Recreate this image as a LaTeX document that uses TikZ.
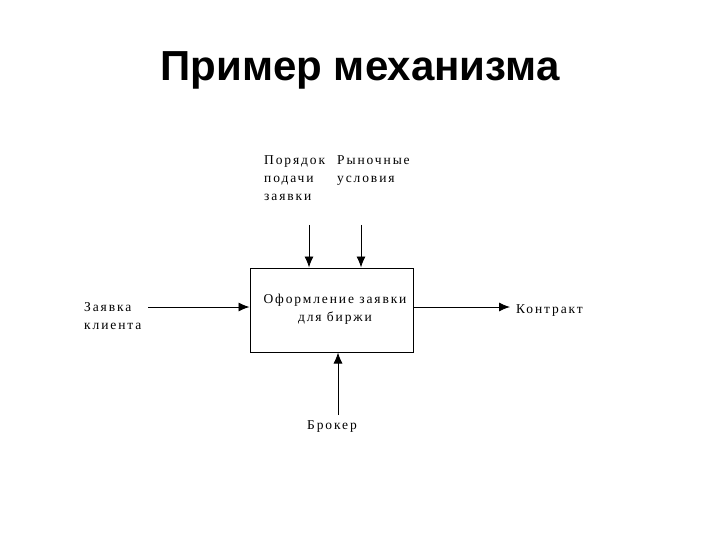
\documentclass[tikz,border=0pt]{standalone}
\usepackage{fontspec}
\setmainfont{Liberation Serif}[LetterSpace=14]
\newfontfamily\titlefont{Liberation Sans}
\usetikzlibrary{arrows.meta}
\begin{document}
\begin{tikzpicture}[x=1pt,y=-1pt,
  lbl/.style={font=\fontsize{13.5}{18}\selectfont, align=left, inner sep=0pt},
  arr/.style={-{Latex[length=11pt,width=9pt]}, line width=0.9pt},
  box/.style={draw, line width=1pt, minimum width=163pt, minimum height=84pt, inner sep=0pt}]
\useasboundingbox (0,0) rectangle (720,540);
\node (title) at (360,70) {\titlefont\bfseries\fontsize{42}{48}\selectfont Пример механизма};
\node[box] (b) at (331.5,310) {};
\node[lbl, align=center] (bt) at (335,309) {Оформление заявки\\для биржи};
\coordinate (t1) at (309,225);
\coordinate (t2) at (361,225);
\coordinate (l) at (148,307);
\coordinate (r) at (510,307);
\coordinate (bo) at (338,415);
\draw[arr] (t1) -- (t1 |- b.north);
\draw[arr] (t2) -- (t2 |- b.north);
\draw[arr] (l) -- (l -| b.west);
\draw[arr] (b.east |- r) -- (r);
\draw[arr] (bo) -- (bo |- b.south);
\node[lbl, anchor=north west] (p) at (264,155) {Порядок\\подачи\\заявки};
\node[lbl, anchor=north west] (ru) at (337,155) {Рыночные\\условия};
\node[lbl, anchor=north west] (z) at (84,302) {Заявка\\клиента};
\node[lbl, anchor=west] (k) at (516,311) {Контракт};
\node[lbl, anchor=north west] (br) at (307,420) {Брокер};
\end{tikzpicture}
\end{document}
